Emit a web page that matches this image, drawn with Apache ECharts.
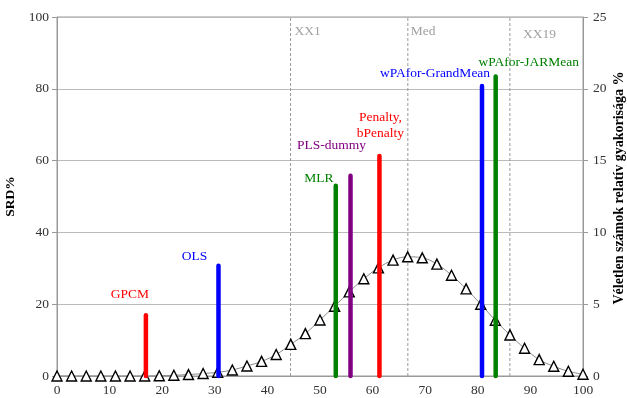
<!DOCTYPE html>
<html>
<head>
<meta charset="utf-8">
<script src="https://cdn.jsdelivr.net/npm/echarts@6/dist/echarts.min.js"></script>
<style>
  html, body { margin: 0; padding: 0; background: #fff; }
  #chart { width: 627px; height: 398px; }
</style>
</head>
<body>
<div id="chart"></div>
<script>
// Method positions on the SRD% scale (x) and their SRD% value (bar height)
const methodNames = ['GPCM', 'OLS', 'MLR', 'PLS-dummy', 'Penalty,\nbPenalty', 'wPAfor-GrandMean', 'wPAfor-JARMean'];
const methodValues = [16.9, 30.7, 53.0, 55.8, 61.3, 80.8, 83.4];
const methodColors = ['#ff0000', '#0000ff', '#008000', '#800080', '#ff0000', '#0000ff', '#008000'];
// label placement relative to the top of each bar, in pixels [dx, dy]
const labelOffsets = [[-16, -21], [-24, -9], [-17, -7], [-19, -30], [1, -30], [-47, -12], [33, -14]];

// Reference percentiles (dashed verticals)
const refNames = ['XX1', 'Med', 'XX19'];
const refValues = [44.4, 66.7, 86.1];
const refLabelDx = [4, 3, 13];

// Relative frequency of random numbers (%), sampled at 37 points over 0..100
const freqX = [0, 2.78, 5.56, 8.33, 11.11, 13.89, 16.67, 19.44, 22.22, 25, 27.78, 30.56, 33.33,
  36.11, 38.89, 41.67, 44.44, 47.22, 50, 52.78, 55.56, 58.33, 61.11, 63.89, 66.67, 69.44,
  72.22, 75, 77.78, 80.56, 83.33, 86.11, 88.89, 91.67, 94.44, 97.22, 100];
const freqY = [0, 0, 0, 0, 0, 0, 0, 0.02, 0.05, 0.1, 0.17, 0.26, 0.42, 0.7, 1.02, 1.5, 2.2,
  2.95, 3.9, 4.86, 5.86, 6.77, 7.53, 8.07, 8.3, 8.23, 7.79, 7.02, 6.07, 5.0, 3.88, 2.86,
  1.93, 1.14, 0.68, 0.33, 0.12];

const xTicks = [0, 10, 20, 30, 40, 50, 60, 70, 80, 90, 100];
const rightAxisTitle = 'Véletlen számok relatív gyakorisága %';

const FONT = '"Liberation Serif", "Times New Roman", serif';
const chart = echarts.init(document.getElementById('chart'), null, { renderer: 'canvas' });

const axisText = { color: '#333', fontFamily: FONT, fontSize: 13.5 };

chart.setOption({
  animation: false,
  grid: { left: 57, right: 44, top: 17, bottom: 22, outerBoundsMode: 'none', containLabel: false,
          show: true, borderColor: '#999', borderWidth: 1 },
  graphic: [
    {
      // right-hand axis title, reading bottom to top
      type: 'text', x: 619, y: 188, rotation: Math.PI / 2,
      style: { text: rightAxisTitle, font: 'bold 14px ' + FONT, fill: '#000',
               textAlign: 'center', textVerticalAlign: 'middle' }
    }
  ],
  xAxis: {
    type: 'value', min: xTicks[0], max: xTicks[xTicks.length - 1], interval: 10,
    axisLine: { lineStyle: { color: '#999' } },
    axisTick: { show: false },
    splitLine: { show: false },
    axisLabel: Object.assign({ margin: 7 }, axisText)
  },
  yAxis: [
    {
      type: 'value', min: 0, max: 100, interval: 20, position: 'left',
      name: 'SRD%', nameLocation: 'middle', nameGap: 35, nameRotate: 90,
      nameTextStyle: { fontFamily: FONT, fontSize: 13.5, fontWeight: 'bold', color: '#000' },
      axisLine: { show: true, lineStyle: { color: '#999' } },
      axisTick: { show: true, inside: false, length: 5, lineStyle: { color: '#999' } },
      splitLine: { show: true, lineStyle: { color: '#bbb', width: 1 } },
      axisLabel: Object.assign({ margin: 8 }, axisText)
    },
    {
      type: 'value', min: 0, max: 25, interval: 5, position: 'right',
      axisLine: { show: true, lineStyle: { color: '#999' } },
      axisTick: { show: true, inside: false, length: 5, lineStyle: { color: '#999' } },
      splitLine: { show: false },
      axisLabel: Object.assign({ margin: 10 }, axisText)
    }
  ],
  series: [
    {
      // dashed percentile markers with their names at the top
      type: 'custom',
      yAxisIndex: 0,
      data: refValues.map((v, i) => [v, i]),
      renderItem: function (params, api) {
        const x = api.value(0);
        const i = api.value(1);
        const p0 = api.coord([x, 0]);
        const p1 = api.coord([x, 100]);
        return {
          type: 'group',
          children: [
            { type: 'line', shape: { x1: p0[0], y1: p0[1], x2: p1[0], y2: p1[1] },
              style: { stroke: '#999', lineWidth: 1, lineDash: [3, 2] } },
            { type: 'text', x: p1[0] + refLabelDx[i], y: p1[1] + 14 + (i === 2 ? 3 : 0),
              style: { text: refNames[i], fill: '#a0a0a0', font: '13.5px ' + FONT,
                       textAlign: 'left', textVerticalAlign: 'middle' } }
          ]
        };
      },
      z: 2
    },
    {
      // frequency curve
      type: 'line',
      yAxisIndex: 1,
      data: freqX.map((x, i) => [x, freqY[i]]),
      smooth: 0.4,
      symbol: 'triangle',
      symbolSize: 10,
      showAllSymbol: true,
      lineStyle: { color: '#888', width: 1 },
      itemStyle: { color: '#fff', borderColor: '#000', borderWidth: 1.4 },
      z: 3
    },
    {
      // method bars with coloured names
      type: 'custom',
      yAxisIndex: 0,
      data: methodValues.map((v, i) => [v, v, i]),
      renderItem: function (params, api) {
        const x = api.value(0);
        const h = api.value(1);
        const i = api.value(2);
        const p0 = api.coord([x, 0]);
        const p1 = api.coord([x, h]);
        return {
          type: 'group',
          children: [
            { type: 'line', shape: { x1: p0[0], y1: p0[1], x2: p1[0], y2: p1[1] },
              style: { stroke: methodColors[i], lineWidth: 4.5, lineCap: 'round' } },
            { type: 'text', x: p1[0] + labelOffsets[i][0], y: p1[1] + labelOffsets[i][1],
              style: { text: methodNames[i], fill: methodColors[i], font: '13.5px ' + FONT,
                       textAlign: 'center', textVerticalAlign: 'middle', lineHeight: 16 } }
          ]
        };
      },
      z: 4
    }
  ]
});
</script>
</body>
</html>
